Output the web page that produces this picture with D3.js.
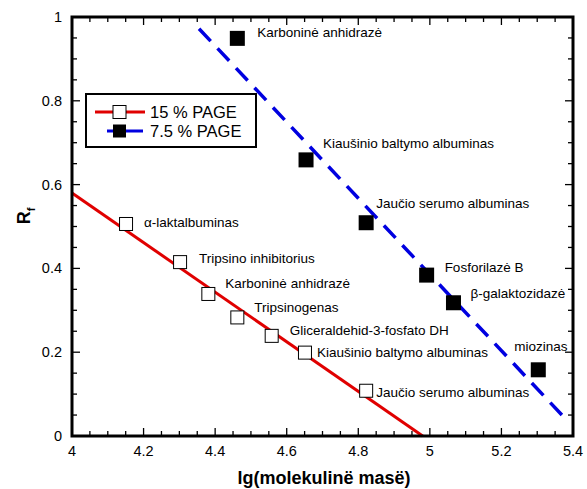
<!DOCTYPE html>
<html>
<head>
<meta charset="utf-8">
<script src="https://cdn.jsdelivr.net/npm/d3@7"></script>
<style>
  body { margin: 0; background: #fff; }
  svg { font-family: Arial, "Liberation Sans", sans-serif; }
</style>
</head>
<body>
<div id="chart"></div>
<script>
// 15 % PAGE markers
var x15 = [4.151, 4.302, 4.381, 4.462, 4.558, 4.651, 4.822];
var rf15 = [0.506, 0.415, 0.339, 0.283, 0.239, 0.199, 0.108];
var names15 = ["\u03b1-laktalbuminas", "Tripsino inhibitorius", "Karbonin\u0117 anhidraz\u0117",
    "Tripsinogenas", "Gliceraldehid-3-fosfato DH", "Kiau\u0161inio baltymo albuminas", "Jau\u010dio serumo albuminas"];

// 7.5 % PAGE markers
var x75 = [4.462, 4.654, 4.822, 4.991, 5.066, 5.303];
var rf75 = [0.949, 0.659, 0.509, 0.384, 0.318, 0.158];
var names75 = ["Karbonin\u0117 anhidraz\u0117", "Kiau\u0161inio baltymo albuminas", "Jau\u010dio serumo albuminas",
    "Fosforilaz\u0117 B", "\u03b2-galaktozidaz\u0117", "miozinas"];

// fitted lines (end points)
var fit15X = [4, 4.98], fit15Y = [0.58, 0];
var fit75X = [4.355, 5.38], fit75Y = [0.972, 0.04];

// label offsets from marker centre (px)
var off15 = [[18, -2], [19, -4], [17, -11], [17, -10], [18, -6], [12, 0], [10, 2]];
var off75 = [[20, -6], [17, -17], [10, -19], [18, -8], [17, -9], [-24, -24]];

var W = 587, H = 489;
var pL = 72, pR = 573, pT = 17, pB = 436;

var svg = d3.select("#chart").append("svg")
    .attr("width", W)
    .attr("height", H);

var x = d3.scaleLinear().domain([4, 5.4]).range([pL, pR]);
var y = d3.scaleLinear().domain([0, 1]).range([pB, pT]);

var fmt = function (d) { return String(+d.toFixed(2)); };

// minor + major ticks, pointing inwards on all four sides
var ticks = svg.append("g").attr("stroke", "#000").attr("stroke-width", 1.3);
x.ticks(28).forEach(function (d) {
    var major = Math.abs(d * 5 - Math.round(d * 5)) < 1e-6;
    var len = major ? 8 : 5;
    ticks.append("line").attr("x1", x(d)).attr("x2", x(d)).attr("y1", pB).attr("y2", pB - len);
    ticks.append("line").attr("x1", x(d)).attr("x2", x(d)).attr("y1", pT).attr("y2", pT + len);
});
y.ticks(20).forEach(function (d) {
    var major = Math.abs(d * 5 - Math.round(d * 5)) < 1e-6;
    var len = major ? 8 : 5;
    ticks.append("line").attr("x1", pL).attr("x2", pL + len).attr("y1", y(d)).attr("y2", y(d));
    ticks.append("line").attr("x1", pR).attr("x2", pR - len).attr("y1", y(d)).attr("y2", y(d));
});

// tick labels
svg.append("g").selectAll("text")
    .data(x.ticks(7))
    .enter().append("text")
    .attr("x", function (d) { return x(d); })
    .attr("y", pB + 20)
    .attr("text-anchor", "middle")
    .attr("font-size", 14.5)
    .text(fmt);

svg.append("g").selectAll("text")
    .data(y.ticks(5))
    .enter().append("text")
    .attr("x", pL - 10)
    .attr("y", function (d) { return y(d); })
    .attr("dy", "0.35em")
    .attr("text-anchor", "end")
    .attr("font-size", 14.5)
    .text(fmt);

// axis titles
svg.append("text")
    .attr("x", 324)
    .attr("y", 484)
    .attr("text-anchor", "middle")
    .attr("font-size", 18)
    .attr("font-weight", "bold")
    .text("lg(molekulin\u00eb mas\u00eb)");

var yt = svg.append("text")
    .attr("transform", "translate(30,216) rotate(-90)")
    .attr("text-anchor", "middle")
    .attr("font-size", 18)
    .attr("font-weight", "bold");
yt.append("tspan").text("R");
yt.append("tspan").attr("font-size", 11).attr("dy", 5).text("f");

// fitted lines
var line = d3.line().x(function (d) { return x(d[0]); }).y(function (d) { return y(d[1]); });

svg.append("path")
    .datum(d3.zip(fit15X, fit15Y))
    .attr("d", line)
    .attr("fill", "none")
    .attr("stroke", "#e00000")
    .attr("stroke-width", 3);

svg.append("path")
    .datum(d3.zip(fit75X, fit75Y))
    .attr("d", line)
    .attr("fill", "none")
    .attr("stroke", "#0000e0")
    .attr("stroke-width", 3.5)
    .attr("stroke-dasharray", "17,10");

// markers
var s15 = 13, s75 = 15;
svg.append("g").selectAll("rect")
    .data(d3.zip(x15, rf15))
    .enter().append("rect")
    .attr("x", function (d) { return x(d[0]) - s15 / 2; })
    .attr("y", function (d) { return y(d[1]) - s15 / 2; })
    .attr("width", s15)
    .attr("height", s15)
    .attr("fill", "#fff")
    .attr("stroke", "#000")
    .attr("stroke-width", 1);

svg.append("g").selectAll("rect")
    .data(d3.zip(x75, rf75))
    .enter().append("rect")
    .attr("x", function (d) { return x(d[0]) - s75 / 2; })
    .attr("y", function (d) { return y(d[1]) - s75 / 2; })
    .attr("width", s75)
    .attr("height", s75)
    .attr("fill", "#000");

// point labels
svg.append("g").selectAll("text")
    .data(d3.range(x15.length))
    .enter().append("text")
    .attr("x", function (i) { return x(x15[i]) + off15[i][0]; })
    .attr("y", function (i) { return y(rf15[i]) + off15[i][1]; })
    .attr("dy", "0.35em")
    .attr("font-size", 13.5)
    .text(function (i) { return names15[i]; });

svg.append("g").selectAll("text")
    .data(d3.range(x75.length))
    .enter().append("text")
    .attr("x", function (i) { return x(x75[i]) + off75[i][0]; })
    .attr("y", function (i) { return y(rf75[i]) + off75[i][1]; })
    .attr("dy", "0.35em")
    .attr("font-size", 13.5)
    .text(function (i) { return names75[i]; });

// frame
svg.append("rect")
    .attr("x", pL)
    .attr("y", pT)
    .attr("width", pR - pL)
    .attr("height", pB - pT)
    .attr("fill", "none")
    .attr("stroke", "#000")
    .attr("stroke-width", 3);

// legend
var lg = svg.append("g");
lg.append("rect")
    .attr("x", 86).attr("y", 94)
    .attr("width", 170).attr("height", 53)
    .attr("fill", "#fff")
    .attr("stroke", "#000")
    .attr("stroke-width", 2);
lg.append("line")
    .attr("x1", 95).attr("x2", 145).attr("y1", 112).attr("y2", 112)
    .attr("stroke", "#e00000").attr("stroke-width", 3);
lg.append("rect")
    .attr("x", 119.5 - s15 / 2).attr("y", 112 - s15 / 2)
    .attr("width", s15).attr("height", s15)
    .attr("fill", "#fff").attr("stroke", "#000");
lg.append("text")
    .attr("x", 150).attr("y", 112).attr("dy", "0.35em")
    .attr("font-size", 16.5)
    .text("15 % PAGE");
lg.append("line")
    .attr("x1", 107).attr("x2", 143).attr("y1", 131).attr("y2", 131)
    .attr("stroke", "#0000e0").attr("stroke-width", 3);
lg.append("rect")
    .attr("x", 119.5 - s15 / 2).attr("y", 131 - s15 / 2)
    .attr("width", s15).attr("height", s15)
    .attr("fill", "#000");
lg.append("text")
    .attr("x", 150).attr("y", 131).attr("dy", "0.35em")
    .attr("font-size", 16.5)
    .text("7.5 % PAGE");
</script>
</body>
</html>
